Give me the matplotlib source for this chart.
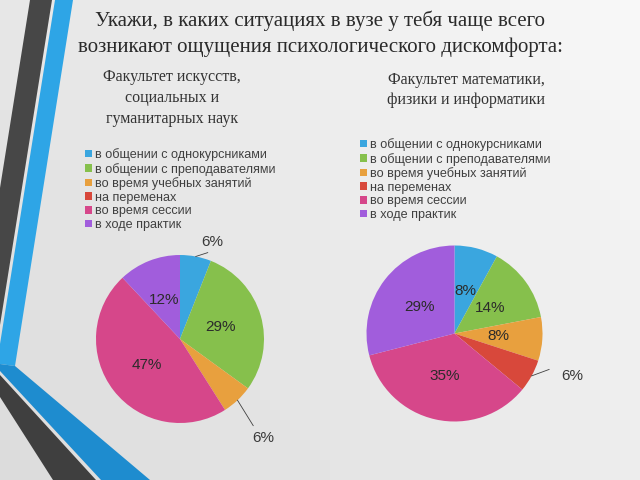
import numpy as np
import matplotlib
matplotlib.use("Agg")
import matplotlib.pyplot as plt
from matplotlib.patches import Polygon, Patch

# data
categories = ["в общении с однокурсниками", "в общении с преподавателями",
              "во время учебных занятий", "на переменах",
              "во время сессии", "в ходе практик"]
left_values = [6, 29, 6, 0, 47, 12]
right_values = [8, 14, 8, 6, 35, 29]
title = "Укажи, в каких ситуациях в вузе у тебя чаще всего\nвозникают ощущения психологического дискомфорта:"
left_title = "Факультет искусств,\nсоциальных и\nгуманитарных наук"
right_title = "Факультет математики,\nфизики и информатики"

colors = ["#3AA6DF", "#86C04C", "#E8A03E", "#D8483B", "#D6478A", "#A15DDC"]

W, H = 640, 480
fig = plt.figure(figsize=(6.4, 4.8), dpi=100)

# background + decorative stripes (pixel coords)
bg = fig.add_axes([0, 0, 1, 1])
bg.set_xlim(0, W)
bg.set_ylim(H, 0)
bg.axis("off")
gx, gy = np.meshgrid(np.linspace(0, 1, 64), np.linspace(0, 1, 48))
grad = 0.86 + 0.11 * (0.6 * gx + 0.4 * (1 - gy))
bg.imshow(grad, cmap="gray", vmin=0, vmax=1, extent=[0, W, H, 0], aspect="auto", zorder=0)

deco = [
    ([(30, 0), (52, 0), (0, 325), (0, 188)], "#474747"),
    ([(55, 0), (73, 0), (15, 366), (0, 364), (0, 344)], "#2EA5E6"),
    ([(0, 364), (15, 366), (150, 480), (101, 480), (0, 371)], "#1E8CCF"),
    ([(0, 375), (96, 480), (53, 480), (0, 397)], "#3F3F3F"),
]
for pts, c in deco:
    bg.add_patch(Polygon(pts, closed=True, facecolor=c, edgecolor="none", zorder=1))

# titles
serif = ["Liberation Serif", "DejaVu Serif"]
fig.text(0.5, 1 - 34 / H, title, ha="center", va="center", family=serif,
         fontsize=15, color="#2a2a2a", linespacing=1.45)
fig.text(172 / W, 1 - 98 / H, left_title, ha="center", va="center", family=serif,
         fontsize=11.5, color="#333333", linespacing=1.39)
fig.text(466 / W, 1 - 90 / H, right_title, ha="center", va="center", family=serif,
         fontsize=11.5, color="#333333", linespacing=1.39)

sans = ["Liberation Sans", "DejaVu Sans"]


def draw_pie(cx, cy, r, values, outside):
    ax = fig.add_axes([(cx - r) / W, 1 - (cy + r) / H, 2 * r / W, 2 * r / H])
    wedges, _ = ax.pie(values, colors=colors, startangle=90, counterclock=False,
                       radius=1, wedgeprops=dict(linewidth=0))
    ax.set_xlim(-1, 1)
    ax.set_ylim(-1, 1)
    ax.axis("off")
    for i, (w, v) in enumerate(zip(wedges, values)):
        if v == 0:
            continue
        mid = np.deg2rad((w.theta1 + w.theta2) / 2)
        if i in outside:
            line_r, lab_r, shift = outside[i]
            la = mid + np.deg2rad(shift)
            ax.plot([np.cos(mid), line_r * np.cos(la)], [np.sin(mid), line_r * np.sin(la)],
                    color="#404040", lw=0.6, clip_on=False)
            la2 = mid + np.deg2rad(shift * 1.1)
            ax.text(lab_r * np.cos(la2), lab_r * np.sin(la2), f"{v}%", ha="center",
                    va="center", fontsize=11, family=sans, color="#3a3a3a")
        else:
            ax.text(0.5 * np.cos(mid), 0.5 * np.sin(mid), f"{v}%", ha="center",
                    va="center", fontsize=11, family=sans, color="#2b2b2b")
    return ax


draw_pie(180, 339, 84, left_values, {0: (1.08, 1.22, -7), 2: (1.35, 1.54, -3)})
draw_pie(454.5, 333.5, 88, right_values, {3: (1.15, 1.42, 8)})

handles = [Patch(facecolor=c, edgecolor="none") for c in colors]
for x, y in [(85, 148), (360, 138)]:
    fig.legend(handles, categories, loc="upper left", bbox_to_anchor=(x / W, 1 - y / H),
               frameon=False, prop=dict(family=sans, size=9.1), labelcolor="#404040",
               handlelength=0.55, handleheight=0.55, handletextpad=0.25,
               labelspacing=0.13, borderpad=0, borderaxespad=0)

fig.savefig("out.png", dpi=100)
